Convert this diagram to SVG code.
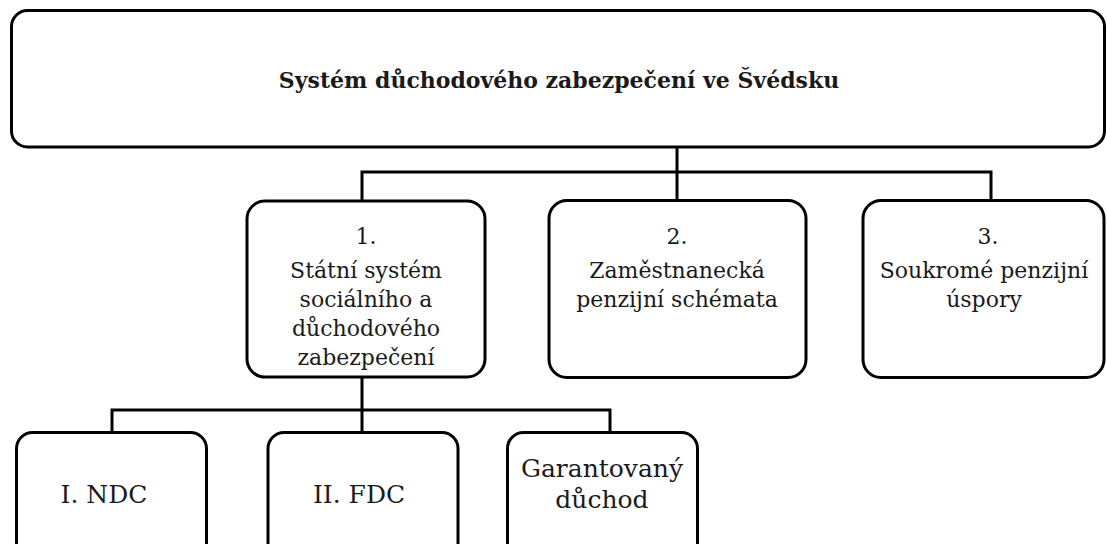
<svg xmlns="http://www.w3.org/2000/svg" width="1107" height="544" viewBox="0 0 1107 544">
<style>
.box{fill:#fff;stroke:#000;stroke-width:3}
.c{fill:none;stroke:#000;stroke-width:3}
text{font-family:"DejaVu Serif","Liberation Serif",serif;font-size:22px;fill:#1a1a1a;text-anchor:middle}
.t{font-weight:bold;font-size:22px}
.b{font-size:25px}
</style>
<rect width="1107" height="544" fill="#fff"/>
<g id="connectors">
<path class="c" d="M677 147V172M362 201V172H991V201M677 172V201"/>
<path class="c" d="M362 377V410M112 433V410H610V433M362 410V433"/>
</g>
<g id="root">
<rect class="box" x="11.5" y="10.5" width="1093" height="136.5" rx="16"/>
<text class="t" x="559" y="88">Systém důchodového zabezpečení ve Švédsku</text>
</g>
<g id="n1">
<rect class="box" x="247" y="201" width="238" height="176" rx="18"/>
<text x="366" y="244">1.</text>
<text x="366" y="278">Státní systém</text>
<text x="366" y="307">sociálního a</text>
<text x="366" y="336">důchodového</text>
<text x="366" y="365">zabezpečení</text>
</g>
<g id="n2">
<rect class="box" x="549" y="200.5" width="257" height="177" rx="18"/>
<text x="677" y="244">2.</text>
<text x="677" y="278">Zaměstnanecká</text>
<text x="677" y="307">penzijní schémata</text>
</g>
<g id="n3">
<rect class="box" x="863" y="200.5" width="241" height="177" rx="18"/>
<text x="988" y="244">3.</text>
<text x="984" y="278">Soukromé penzijní</text>
<text x="984" y="307">úspory</text>
</g>
<g id="nA">
<rect class="box" x="16.5" y="432.5" width="190" height="130" rx="16"/>
<text class="b" x="104" y="503">I. NDC</text>
</g>
<g id="nB">
<rect class="box" x="268" y="432.5" width="190" height="130" rx="16"/>
<text class="b" x="359" y="503">II. FDC</text>
</g>
<g id="nC">
<rect class="box" x="507.5" y="432.5" width="190" height="130" rx="16"/>
<text class="b" x="602" y="477">Garantovaný</text>
<text class="b" x="602" y="508">důchod</text>
</g>
</svg>
